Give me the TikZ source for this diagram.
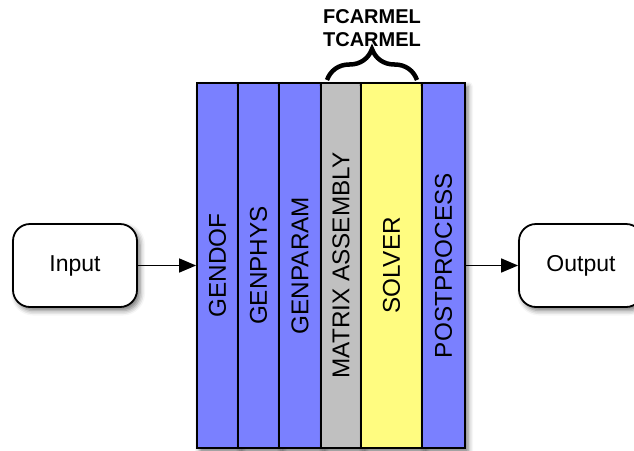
\documentclass[tikz,border=0pt]{standalone}
\usepackage{fontspec}
\setmainfont{Liberation Sans}
\usetikzlibrary{shadows,shadows.blur,decorations.pathreplacing,arrows.meta}
\definecolor{colblue}{RGB}{122,128,255}
\definecolor{colgray}{RGB}{192,192,192}
\definecolor{colyellow}{RGB}{255,252,128}
\tikzset{
  shad/.style={blur shadow={shadow xshift=3pt,shadow yshift=-3.5pt,shadow blur radius=5pt,shadow opacity=55}},
  colbox/.style={draw=black,line width=1.8pt,rotate=90,minimum width=365pt,minimum height=#1,inner sep=0pt,
    font=\fontsize{24.3}{28}\selectfont,shad},
  iobox/.style={draw=black,line width=1.8pt,fill=white,rounded corners=17pt,minimum width=124pt,minimum height=83pt,
    font=\fontsize{23}{27}\selectfont,shad},
  conn/.style={line width=1.5pt,-{Triangle[length=17pt,width=14pt]}},
}
\begin{document}
\begin{tikzpicture}[x=1pt,y=-1pt]
\useasboundingbox (0,0) rectangle (634,450);
\clip (0,0) rectangle (634,450);
\node[iobox] (input) at (75,265.5) {Input};
\node[iobox] (output) at (581,265.5) {Output};
\node[colbox=41pt,fill=colblue] (gendof) at (217.5,265.5) {GENDOF};
\node[colbox=41pt,fill=colblue] (genphys) at (258.5,265.5) {GENPHYS};
\node[colbox=42pt,fill=colblue] (genparam) at (300,265.5) {GENPARAM};
\node[colbox=40pt,fill=colgray] (matrix) at (341,265.5) {MATRIX ASSEMBLY};
\node[colbox=61pt,fill=colyellow] (solver) at (391.5,265.5) {SOLVER};
\node[colbox=43pt,fill=colblue] (post) at (443.5,265.5) {POSTPROCESS};
\coordinate (bl) at (327,80);
\coordinate (br) at (417,80);
\draw[line width=4.5pt,decorate,decoration={brace,amplitude=31pt,aspect=0.5}] (bl) -- (br);
\node[font=\fontsize{20}{23}\selectfont\bfseries,align=center] (carmel) at (372,28) {FCARMEL\\TCARMEL};
\draw[conn] (input.east) -- (input.east -| gendof.north);
\draw[conn] (post.south |- output.west) -- (output.west);
\end{tikzpicture}
\end{document}
